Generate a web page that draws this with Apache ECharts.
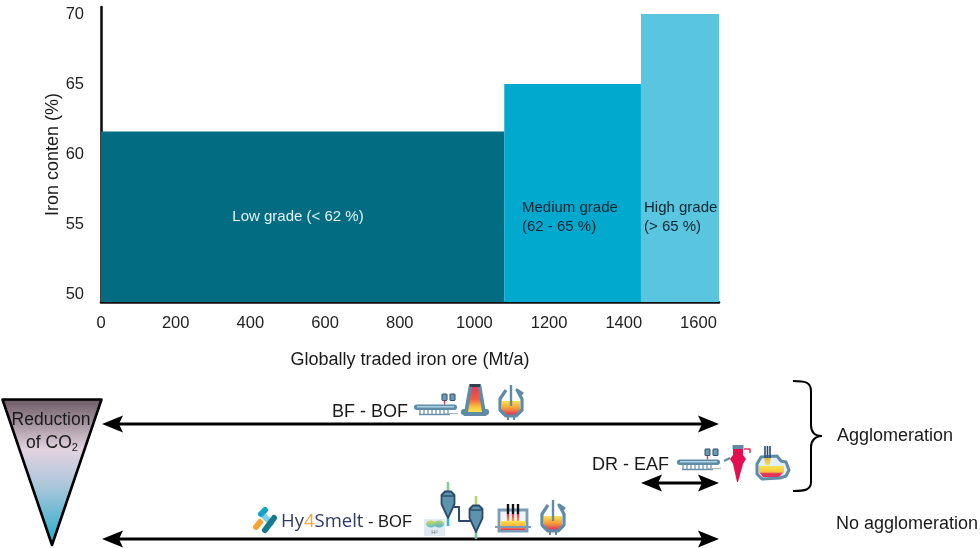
<!DOCTYPE html>
<html>
<head>
<meta charset="utf-8">
<style>html,body{margin:0;padding:0;background:#fff}#c{width:980px;height:548px}</style>
<script src="https://cdn.jsdelivr.net/npm/echarts@6/dist/echarts.min.js"></script>
</head>
<body>
<div id="c"></div>
<script>
var gradeNames = ['Low grade', 'Medium grade', 'High grade'];
var tradedVolumes = [1080, 366, 209];
var ironContents = [61.6, 65, 70];
var gradeColors = ['#026c82', '#00a9cd', '#5ac5df'];
var xTicks = [0, 200, 400, 600, 800, 1000, 1200, 1400, 1600];
var yTicks = [50, 55, 60, 65, 70];

var FONT = '"Liberation Sans", Arial, sans-serif';
var BLUE = '#5f8ba6', NAVY = '#2b4a6b';
function vgrad(stops) {
  return {type: 'linear', x: 0, y: 0, x2: 0, y2: 1,
    colorStops: stops.map(function (s) { return {offset: s[0], color: s[1]}; })};
}
var meltGrad = vgrad([[0, '#fde24a'], [0.5, '#f9a03c'], [1, '#e0305a']]);
var gfx = [];
function poly(pts, fill, stroke, w) { gfx.push({type: 'polygon', shape: {points: pts}, style: {fill: fill || 'none', stroke: stroke || 'none', lineWidth: w || 0, lineJoin: 'round'}}); }
function pline(pts, stroke, w, cap) { gfx.push({type: 'polyline', shape: {points: pts}, style: {fill: 'none', stroke: stroke, lineWidth: w, lineCap: cap || 'butt', lineJoin: 'round'}}); }
function rect(x, y, w, h, fill, r, stroke, sw) { gfx.push({type: 'rect', shape: {x: x, y: y, width: w, height: h, r: r || 0}, style: {fill: fill, stroke: stroke || 'none', lineWidth: sw || 0}}); }
function text(s, x, y, o) {
  o = o || {};
  gfx.push({type: 'text', z: 10, style: {text: s, x: x, y: y, align: o.align || 'left', verticalAlign: 'middle',
    font: (o.size || 18) + 'px ' + (o.family || FONT), fill: o.color || '#1a1a1a', rich: o.rich, lineHeight: o.lh}});
}

/* arrows */
function arrow(x1, x2, y) {
  pline([[x1 + 14, y], [x2 - 14, y]], '#000', 3);
  poly([[x1, y], [x1 + 21, y - 8.5], [x1 + 17, y], [x1 + 21, y + 8.5]], '#000');
  poly([[x2, y], [x2 - 21, y - 8.5], [x2 - 17, y], [x2 - 21, y + 8.5]], '#000');
}
arrow(102, 719, 424);
arrow(641, 719, 483);
arrow(102, 719, 539);

/* reduction triangle */
poly([[2.5, 399.5], [101.5, 399.5], [52, 545]],
  vgrad([[0, '#6a5963'], [0.35, '#e2d3e0'], [0.6, '#a9c6da'], [1, '#1faccc']]), '#000', 2.6);
text('Reduction', 51, 420, {align: 'center', size: 17.5});
text('of CO{s|2}', 52, 443, {align: 'center', size: 17.5, rich: {s: {font: '11px ' + FONT, fill: '#1a1a1a', padding: [9, 0, 0, 0]}}});

/* brace */
function bez(a, b, c, d) { gfx.push({type: 'bezierCurve', shape: {x1: a[0], y1: a[1], cpx1: b[0], cpy1: b[1], cpx2: c[0], cpy2: c[1], x2: d[0], y2: d[1]}, style: {fill: 'none', stroke: '#000', lineWidth: 2}}); }
bez([793, 381], [805, 381], [811, 382], [811, 391]);
pline([[811, 391], [811, 425]], '#000', 2);
bez([811, 425], [811, 432], [815, 436], [822, 436]);
bez([822, 436], [815, 436], [811, 441], [811, 447]);
pline([[811, 447], [811, 482]], '#000', 2);
bez([811, 482], [811, 490], [805, 491], [793, 491]);

/* labels */
text('BF - BOF', 332, 412);
text('DR - EAF', 592, 465);
text('Agglomeration', 837, 436);
text('No agglomeration', 836, 524);
text('Low grade (< 62 %)', 298, 217, {align: 'center', size: 15, color: '#e6f2f5'});
text('Medium grade', 522, 208, {size: 15, color: '#0a2530'});
text('(62 - 65 %)', 522, 227, {size: 15, color: '#0a2530'});
text('High grade', 644, 208, {size: 15, color: '#0a2530'});
text('(> 65 %)', 644, 227, {size: 15, color: '#0a2530'});

/* Hy4Smelt logo + text */
function pill(a, b, c, w) { pline([a, b], c, w || 6, 'round'); }
pill([256, 527], [260, 522], '#f7a530');
pill([264, 516], [271, 523], '#7fd0e0');
pill([261, 514], [265, 510], '#12a5c9');
pill([265, 530], [274, 518], '#157a90');
text('{a|Hy}{b|4}{a|Smelt}{c| - BOF}', 281, 522, {rich: {
  a: {font: '18.5px "Open Sans", sans-serif', fill: '#2e3a66'},
  b: {font: '18.5px "Open Sans", sans-serif', fill: '#f7a530'},
  c: {font: '16.5px ' + FONT, fill: '#1a1a1a'}
}});

/* process icons */
function belt(x, y) {
  rect(x + 28, y - 11, 5, 6.5, '#6f9ab4', 0.5, NAVY, 1);
  rect(x + 36, y - 11, 5, 6.5, '#6f9ab4', 0.5, NAVY, 1);
  pline([[x + 30.5, y - 4.5], [x + 30.5, y - 0.5]], '#e8315f', 1.4);
  rect(x, y - 0.5, 43, 5.5, BLUE, 2.7);
  rect(x + 3, y + 1, 37, 1.5, '#a9d4e6');
  for (var i = 0; i < 8; i++) pline([[x + 6 + i * 4, y + 5], [x + 6 + i * 4, y + 9]], BLUE, 1.2);
  pline([[x + 5, y + 9.5], [x + 36, y + 9.5]], BLUE, 1.4);
  pline([[x + 30, y + 8.5], [x + 44, y + 8.5]], '#a8b9c4', 1.2);
}
function converter(x, y) {
  poly([[x + 4, y + 14], [x + 22, y + 14], [x + 22, y + 23], [x + 18, y + 28], [x + 8, y + 28], [x + 4, y + 23]], meltGrad);
  pline([[x + 8, y + 3], [x + 2, y + 12], [x + 2, y + 23], [x + 8, y + 29], [x + 18, y + 29], [x + 24, y + 23], [x + 24, y + 12], [x + 19, y + 3], [x + 25, y + 7]], BLUE, 3.2);
  pline([[x + 13, y - 2], [x + 13, y + 19]], BLUE, 2.4);
  pline([[x + 10, y + 29], [x + 10, y + 33]], BLUE, 2);
  pline([[x + 16, y + 29], [x + 16, y + 33]], BLUE, 2);
}
function cyclone(x, y, bottom, top, tail, c1, c2) {
  pline([[x, top], [x, y]], c1, 2.6);
  pline([[x, bottom], [x, tail]], c2, 2.6);
  poly([[x - 6.5, y + 4], [x - 3, y + 0.5], [x + 3, y + 0.5], [x + 6.5, y + 4], [x + 6.5, y + 13], [x, bottom], [x - 6.5, y + 13]],
    '#5d93ad', NAVY, 1.8);
  pline([[x - 6.5, y + 5], [x + 6.5, y + 5]], NAVY, 1.4);
}

belt(414, 405);
/* blast furnace */
rect(461, 409, 9, 6, BLUE, 2.5);
rect(480, 409, 9, 6, BLUE, 2.5);
poly([[469, 384], [481, 384], [486.5, 416], [463.5, 416]], BLUE);
poly([[472, 387], [478, 387], [482, 412], [468, 412]], vgrad([[0, '#e23a5e'], [0.5, '#f2603f'], [0.8, '#fbc63e'], [1, '#fde24a']]));
rect(470, 384, 10, 3, '#2f3f4f');
converter(498, 387);

belt(677, 460);
/* shaft furnace */
pline([[724, 461], [730, 458]], BLUE, 2.2);
pline([[744, 449], [750, 449], [750, 453]], '#e8315f', 1.5);
poly([[733, 448], [743, 448], [743, 455], [746, 459], [743, 464], [738, 482], [737, 482], [733, 464], [730, 459], [733, 455]], '#e2104f');
rect(732.5, 445, 11, 4, BLUE, 0.5);
/* EAF */
poly([[757, 474], [757, 464], [761, 457], [777, 456], [781, 461], [786, 462], [789, 470], [786, 476], [780, 478], [762, 479]], '#dff0f7', BLUE, 3);
poly([[759, 466], [784, 466], [784, 472], [779, 477], [763, 477], [759, 472]], vgrad([[0, '#fde24a'], [0.55, '#f9c23c'], [0.7, '#e8315f'], [1, '#e0305a']]));
pline([[765, 446], [765, 458]], NAVY, 1.6);
pline([[767.5, 446], [767.5, 458]], NAVY, 1.6);
pline([[770, 446], [770, 458]], NAVY, 1.6);
poly([[764.5, 458], [770.5, 458], [770, 465], [765, 465]], vgrad([[0, '#e8b040'], [1, '#fde24a']]));

/* H2 box */
rect(424, 519, 21, 17, '#dfeaf2');
gfx.push({type: 'ellipse', shape: {cx: 431, cy: 524, rx: 5, ry: 3.4}, style: {fill: vgrad([[0, '#d9d84a'], [1, '#5fc0d0']])}});
gfx.push({type: 'ellipse', shape: {cx: 439, cy: 524, rx: 5, ry: 3.4}, style: {fill: vgrad([[0, '#b9d46a'], [1, '#4fb8d4']])}});
text('H{s|2}', 434.5, 532, {align: 'center', size: 6, color: '#6a7c88', rich: {s: {font: '4px ' + FONT, fill: '#6a7c88'}}});

/* cyclones */
pline([[454, 507], [459, 507], [459, 521], [470, 521]], NAVY, 2);
cyclone(448, 491, 518, 482, 526, '#7fcf9a', '#35b5cc');
cyclone(476, 505, 532, 496, 539, '#b4d66a', '#6fc7a0');

/* smelter */
rect(499, 510, 28, 21, '#edf5f9', 0, '#7a9db5', 2.8);
rect(500.5, 521, 25, 9, vgrad([[0, '#fde24a'], [0.6, '#fcb23c'], [1, '#e0305a']]));
pline([[495, 527], [531, 527]], '#7a9db5', 2.2);
[508, 513, 518].forEach(function (x) {
  pline([[x, 504], [x, 514]], '#111', 2.4);
  poly([[x - 1.2, 514], [x + 1.2, 514], [x + 1.2, 521], [x - 1.2, 521]], vgrad([[0, '#e0305a'], [1, '#f9a03c']]));
});
converter(540, 502);

/* chart */
var starts = [], acc = 0;
tradedVolumes.forEach(function (v) { starts.push(acc); acc += v; });
var yMin = 49.43;
var rows = gradeNames.map(function (n, i) { return [starts[i], starts[i] + tradedVolumes[i], ironContents[i]]; });
function plain(v) { return String(v); }

var chart = echarts.init(document.getElementById('c'), null, {renderer: 'canvas'});
chart.setOption({
  animation: false,
  backgroundColor: '#fff',
  grid: {left: 101, top: 7, width: 618, height: 295, containLabel: false},
  xAxis: {
    type: 'value', min: 0, max: 1655,
    name: 'Globally traded iron ore (Mt/a)', nameLocation: 'middle', nameGap: 49,
    nameTextStyle: {fontFamily: 'Liberation Sans', fontSize: 18, color: '#1a1a1a'},
    splitLine: {show: false}, axisTick: {show: false},
    axisLine: {show: true, onZero: false, lineStyle: {color: '#111', width: 2.6}},
    axisLabel: {customValues: xTicks, formatter: plain, fontFamily: 'Liberation Sans', fontSize: 16.5, color: '#222', margin: 13}
  },
  yAxis: {
    type: 'value', min: yMin, max: 70.5,
    name: 'Iron conten (%)', nameLocation: 'middle', nameGap: 39, nameMoveOverlap: false,
    nameTextStyle: {fontFamily: 'Liberation Sans', fontSize: 18, color: '#1a1a1a'},
    splitLine: {show: false}, axisTick: {show: false},
    axisLine: {show: true, onZero: false, lineStyle: {color: '#111', width: 2.6}},
    axisLabel: {customValues: yTicks, formatter: plain, fontFamily: 'Liberation Sans', fontSize: 16.5, color: '#222', margin: 17}
  },
  series: [{
    type: 'custom', coordinateSystem: 'cartesian2d', clip: false, z: 1,
    encode: {x: [0, 1], y: 2},
    data: rows,
    renderItem: function (params, api) {
      var a = api.coord([api.value(0), api.value(2)]);
      var b = api.coord([api.value(1), yMin]);
      return {type: 'rect', shape: {x: a[0], y: a[1], width: b[0] - a[0], height: b[1] - a[1]},
        style: {fill: gradeColors[params.dataIndex]}};
    }
  }],
  graphic: {elements: gfx}
});
</script>
</body>
</html>
